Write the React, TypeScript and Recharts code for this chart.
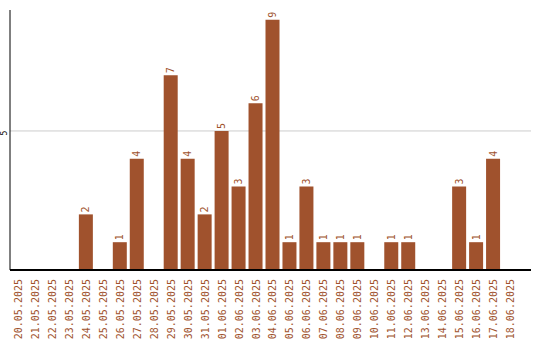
import { BarChart, Bar, XAxis, YAxis, CartesianGrid, LabelList } from "recharts";

const dates = [
  "20.05.2025", "21.05.2025", "22.05.2025", "23.05.2025", "24.05.2025",
  "25.05.2025", "26.05.2025", "27.05.2025", "28.05.2025", "29.05.2025",
  "30.05.2025", "31.05.2025", "01.06.2025", "02.06.2025", "03.06.2025",
  "04.06.2025", "05.06.2025", "06.06.2025", "07.06.2025", "08.06.2025",
  "09.06.2025", "10.06.2025", "11.06.2025", "12.06.2025", "13.06.2025",
  "14.06.2025", "15.06.2025", "16.06.2025", "17.06.2025", "18.06.2025",
];
const counts = [
  0, 0, 0, 0, 2, 0, 1, 4, 0, 7, 4, 2, 5, 3, 6, 9, 1, 3, 1, 1, 1, 0, 1, 1, 0, 0, 3, 1, 4, 0,
];
const yTicks = [5];

const data = dates.map((d, i) => ({ date: d, count: counts[i] }));

const brown = "#A0522D";
const mono = "'DejaVu Sans Mono', monospace";

const XTick = (props: any) => {
  const { x, y, payload } = props;
  const ty = y + 7;
  return (
    <text
      x={x}
      y={ty}
      transform={`rotate(-90, ${x}, ${ty})`}
      textAnchor="end"
      dominantBaseline="central"
      fill={brown}
      fontSize={10}
      fontFamily={mono}
    >
      {payload.value}
    </text>
  );
};

const YTick = (props: any) => {
  const { y, payload } = props;
  const tx = 5;
  const ty = y + 2;
  return (
    <text
      x={tx}
      y={ty}
      transform={`rotate(-90, ${tx}, ${ty})`}
      textAnchor="middle"
      dominantBaseline="central"
      fill="#000"
      fontSize={8}
      fontFamily={mono}
    >
      {payload.value}
    </text>
  );
};

const ValueLabel = (props: any) => {
  const { x, y, width, value } = props;
  if (!value) return null;
  const lx = x + width / 2;
  const ly = y - 2;
  return (
    <text
      x={lx}
      y={ly}
      transform={`rotate(-90, ${lx}, ${ly})`}
      textAnchor="start"
      dominantBaseline="central"
      fill={brown}
      fontSize={10}
      fontFamily={mono}
    >
      {value}
    </text>
  );
};

export default function App() {
  return (
    <div style={{ position: "absolute", left: 0, top: 0 }}>
      <BarChart
        width={540}
        height={340}
        data={data}
        margin={{ top: 10, right: 9, left: 0, bottom: 0 }}
        barSize={14}
      >
        <CartesianGrid
          horizontal={true}
          vertical={false}
          stroke="#cccccc"
          horizontalValues={yTicks}
        />
        <XAxis
          dataKey="date"
          interval={0}
          height={70}
          tickLine={false}
          tickSize={0}
          axisLine={{ stroke: "#000", strokeWidth: 2 }}
          padding={{ left: 0, right: 12 }}
          tick={<XTick />}
        />
        <YAxis
          width={10}
          domain={[0, 9.35]}
          ticks={yTicks}
          tickLine={false}
          tickSize={0}
          axisLine={{ stroke: "#000", strokeWidth: 1 }}
          tick={<YTick />}
        />
        <Bar dataKey="count" fill={brown} isAnimationActive={false}>
          <LabelList dataKey="count" content={<ValueLabel />} />
        </Bar>
      </BarChart>
    </div>
  );
}
